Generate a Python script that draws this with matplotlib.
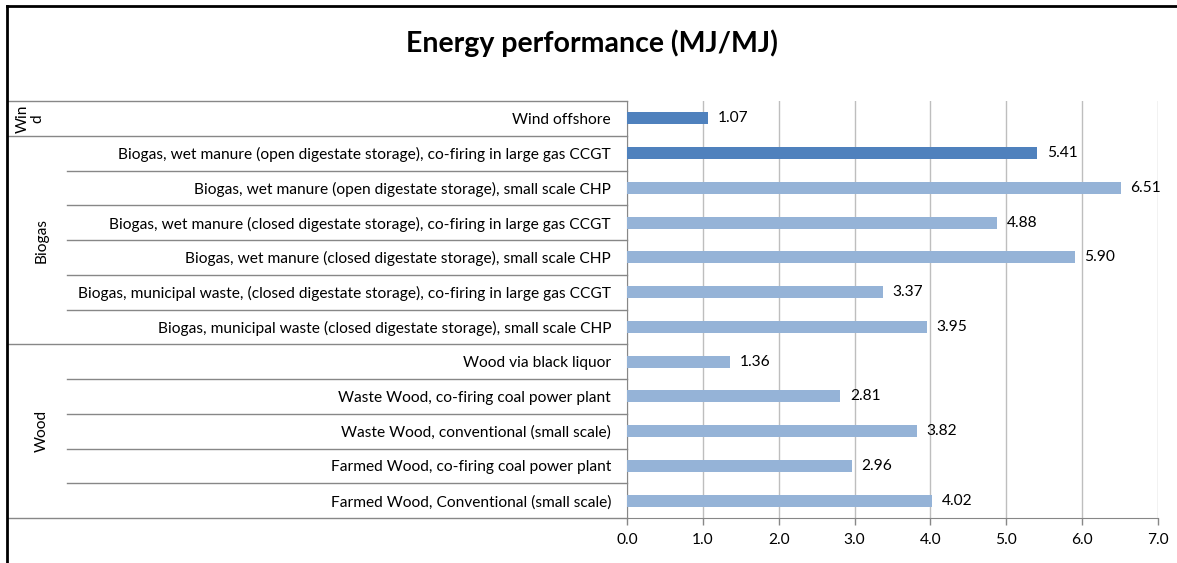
import matplotlib.pyplot as plt
from matplotlib.lines import Line2D
from matplotlib.transforms import blended_transform_factory

# data, top to bottom
labels = [
    "Wind offshore",
    "Biogas, wet manure (open digestate storage), co-firing in large gas CCGT",
    "Biogas, wet manure (open digestate storage), small scale CHP",
    "Biogas, wet manure (closed digestate storage), co-firing in large gas CCGT",
    "Biogas, wet manure (closed digestate storage), small scale CHP",
    "Biogas, municipal waste, (closed digestate storage), co-firing in large gas CCGT",
    "Biogas, municipal waste (closed digestate storage), small scale CHP",
    "Wood via black liquor",
    "Waste Wood, co-firing coal power plant",
    "Waste Wood, conventional (small scale)",
    "Farmed Wood, co-firing coal power plant",
    "Farmed Wood, Conventional (small scale)",
]
values = [1.07, 5.41, 6.51, 4.88, 5.90, 3.37, 3.95, 1.36, 2.81, 3.82, 2.96, 4.02]
highlight = [True, True, False, False, False, False, False, False, False, False, False, False]
groups = ["Win\nd", "Biogas", "Wood"]
group_sizes = [1, 6, 5]

W, H = 1177, 563
plt.rcParams['font.family'] = ['Lato', 'DejaVu Sans']
fig = plt.figure(figsize=(W / 100, H / 100), dpi=100)

# plot area in pixels
x0, x1, ytop, ybot = 627, 1158, 101, 518
ax = fig.add_axes([x0 / W, 1 - ybot / H, (x1 - x0) / W, (ybot - ytop) / H])

fs = 11.2
dark = '#4F81BD'
light = '#95B3D7'
colors = [dark if h else light for h in highlight]
ypos = list(range(len(values)))
ax.barh(ypos, values, height=0.35, color=colors, zorder=3)
ax.set_ylim(len(values) - 0.5, -0.5)
ax.set_xlim(0, 7)
ax.set_xticks(range(8))
ax.set_xticklabels([f"{v:.1f}" for v in range(8)])
ax.set_yticks(ypos)
ax.set_yticklabels(labels)
ax.tick_params(axis='y', length=0, pad=11.5, labelsize=fs, colors='black')
ax.tick_params(axis='x', length=5, width=1, color='#878787', pad=6, labelsize=fs)
ax.grid(axis='x', color='#BEBEBE', linewidth=1, zorder=0)
for s in ['top', 'right']:
    ax.spines[s].set_visible(False)
for s in ['left', 'bottom']:
    ax.spines[s].set_color('#878787')

for y, v in zip(ypos, values):
    ax.annotate(f"{v:.2f}", (v, y), xytext=(7, 0), textcoords='offset points',
                va='center', ha='left', fontsize=fs)

# category table lines to the left of the plot area
unit = x1 - x0
row_left = (67 - x0) / unit
grp_left = (8 - x0) / unit
tr = blended_transform_factory(ax.transAxes, ax.transData)
bounds = [-0.5]
acc = -0.5
for n in group_sizes:
    acc += n
    bounds.append(acc)
for i in range(len(values) - 1):
    yb = i + 0.5
    xl = grp_left if yb in bounds else row_left
    ax.add_line(Line2D([xl, 0], [yb, yb], transform=tr, color='#878787', lw=1, clip_on=False))
ax.add_line(Line2D([grp_left, 0], [-0.5, -0.5], transform=tr, color='#878787', lw=1, clip_on=False))
ax.add_line(Line2D([grp_left, 0], [len(values) - 0.5] * 2, transform=tr, color='#878787', lw=1, clip_on=False))

# group labels
for g, lo, hi in zip(groups, bounds[:-1], bounds[1:]):
    gx = (30 - x0) / unit if '\n' in g else (42 - x0) / unit
    ax.text(gx, (lo + hi) / 2, g, transform=tr, rotation=90, ha='center', va='center',
            fontsize=fs, linespacing=1.0)

fig.text(592 / W, 1 - 43 / H, "Energy performance (MJ/MJ)", ha='center', va='center',
         fontsize=20.5, fontweight='bold')

# outer chart border (left and top visible)
fig.add_artist(Line2D([7 / W, 7 / W], [0, 1 - 6 / H], transform=fig.transFigure, color='black', lw=2))
fig.add_artist(Line2D([7 / W, 1], [1 - 6 / H, 1 - 6 / H], transform=fig.transFigure, color='black', lw=2))

fig.savefig('out.png', dpi=100)
